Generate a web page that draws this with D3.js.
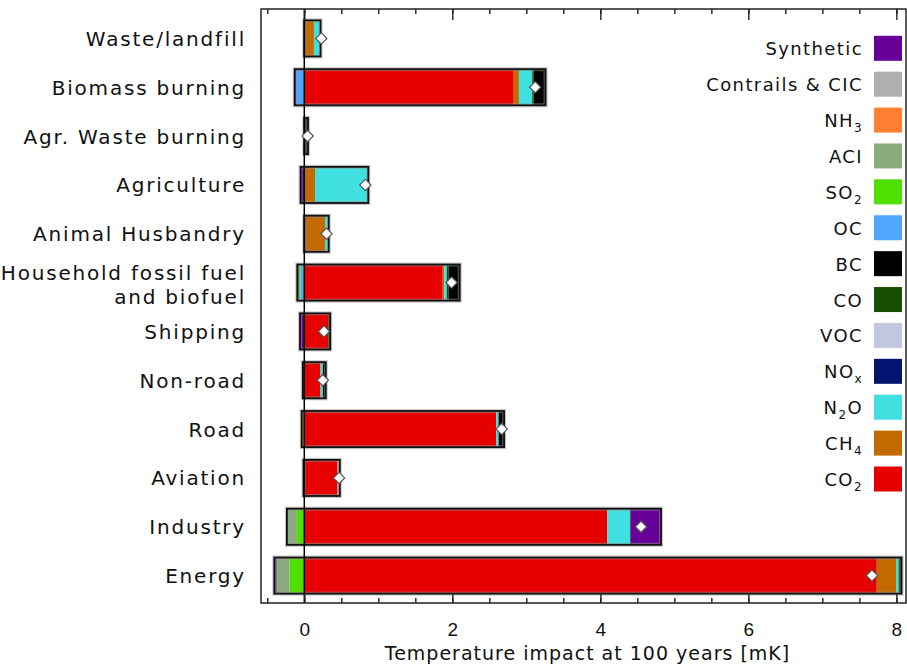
<!DOCTYPE html>
<html>
<head>
<meta charset="utf-8">
<script src="https://cdn.jsdelivr.net/npm/d3@7"></script>
<style>
  html, body { margin: 0; padding: 0; background: #fff; }
  svg { display: block; font-family: "DejaVu Sans", sans-serif; }
</style>
</head>
<body>
<div id="chart"></div>
<script>
// sectors, top to bottom
var sectors = ["Waste/landfill", "Biomass burning", "Agr. Waste burning", "Agriculture",
    "Animal Husbandry", "Household fossil fuel\nand biofuel", "Shipping", "Non-road",
    "Road", "Aviation", "Industry", "Energy"];

// temperature impact at 100 years [mK], one value per sector
var co2       = [0,     2.83,  0,     0,     0,     1.87,  0.32,  0.22,  2.59,  0.45,  4.095, 7.735];
var ch4       = [0.13,  0.07,  0,     0.145, 0.28,  0.02,  0,     0,    -0.035, 0,     0,     0.26];
var n2o       = [0.09,  0.18,  0,     0.72,  0.05,  0.035, 0,     0.03,  0.035, 0,     0.305, 0.035];
var nox       = [0,     0,     0,     0,     0,     0,     0,     0,     0,     0,     0,     0];
var voc       = [0,     0,     0,     0,     0,     0,     0,     0,     0,     0,     0,     0];
var co        = [0,     0.02,  0,     0,     0,     0.025, 0.03,  0,     0,     0,     0.01,  0.02];
var bc        = [0,     0.16,  0.05,  0,     0,     0.15,  0,     0.04,  0.075, 0,     0,     0.02];
var oc        = [0,    -0.11,  0,     0,     0,    -0.05,  0,     0,     0,     0,     0,     0];
var so2       = [0,     0,     0,     0,     0,    -0.023, 0,     0,     0,     0,    -0.10, -0.20];
var aci       = [0,     0,     0,     0,     0,     0,     0,     0,     0,     0,    -0.135, -0.175];
var nh3       = [0,     0,     0,     0,     0,     0,     0,     0,     0,     0,     0,     0];
var contrails = [0,     0,     0,     0,     0,     0,     0,     0,     0,     0.03,  0,     0];
var synthetic = [0,    -0.02,  0,    -0.05,  0,    -0.022, -0.058, -0.02, 0,    -0.01,  0.41, -0.03];

// net impact (white diamonds)
var net = [0.23, 3.12, 0.045, 0.825, 0.30, 1.99, 0.266, 0.25, 2.667, 0.47, 4.55, 7.67];

// species in stacking order (CO2 next to zero), "_" marks a subscript
var species = ["CO_2", "CH_4", "N_2O", "NO_x", "VOC", "CO", "BC", "OC", "SO_2", "ACI", "NH_3", "Contrails & CIC", "Synthetic"];
var speciesValues = [co2, ch4, n2o, nox, voc, co, bc, oc, so2, aci, nh3, contrails, synthetic];
var speciesColors = ["#e60000", "#c26a00", "#40e0e0", "#001470", "#c0c8e2", "#174d00", "#000000",
    "#4ea6ff", "#50e000", "#8aab7b", "#ff8030", "#b0b0b0", "#660099"];

var xTicksMajor = [0, 2, 4, 6, 8];
var xTicksMinor = d3.range(-0.5, 8.01, 0.5);

var width = 907, height = 668;
var frame = {left: 261, right: 906, top: 9, bottom: 603};

var svg = d3.select("#chart").append("svg")
    .attr("width", width)
    .attr("height", height);

var x = d3.scaleLinear()
    .domain([-0.585, 8.13])
    .range([frame.left, frame.right]);

var y = d3.scaleBand()
    .domain(sectors)
    .range([14, 600])
    .paddingInner(0.26)
    .paddingOuter(0.13);

var legendY = d3.scalePoint()
    .domain(species.slice().reverse())
    .range([48.3, 479]);

var color = d3.scaleOrdinal().domain(species).range(speciesColors);

// stack every sector: positives to the right of zero, negatives to the left
var segments = [];
var extents = [];
sectors.forEach(function(s, i) {
    var pos = 0, neg = 0;
    species.forEach(function(sp, j) {
        var v = speciesValues[j][i];
        if (v > 0) {
            segments.push({sector: s, species: sp, x0: pos, x1: pos + v});
            pos += v;
        } else if (v < 0) {
            segments.push({sector: s, species: sp, x0: neg + v, x1: neg});
            neg += v;
        }
    });
    extents.push({sector: s, x0: neg, x1: pos, net: net[i]});
});

var gBars = svg.append("g");

gBars.selectAll(".seg").data(segments).enter().append("rect")
    .attr("class", "seg")
    .attr("x", function(d) { return x(d.x0); })
    .attr("width", function(d) { return x(d.x1) - x(d.x0); })
    .attr("y", function(d) { return y(d.sector); })
    .attr("height", y.bandwidth())
    .attr("fill", function(d) { return color(d.species); });

// soft halo + dark outline round each bar
gBars.selectAll(".halo").data(extents).enter().append("rect")
    .attr("x", function(d) { return x(d.x0); })
    .attr("width", function(d) { return x(d.x1) - x(d.x0); })
    .attr("y", function(d) { return y(d.sector); })
    .attr("height", y.bandwidth())
    .attr("fill", "none")
    .attr("stroke", "#999")
    .attr("stroke-opacity", 0.55)
    .attr("stroke-width", 4);

gBars.selectAll(".outline").data(extents).enter().append("rect")
    .attr("x", function(d) { return x(d.x0); })
    .attr("width", function(d) { return x(d.x1) - x(d.x0); })
    .attr("y", function(d) { return y(d.sector); })
    .attr("height", y.bandwidth())
    .attr("fill", "none")
    .attr("stroke", "#111")
    .attr("stroke-width", 1.8);

// zero line
svg.append("line")
    .attr("x1", x(0)).attr("x2", x(0))
    .attr("y1", frame.top).attr("y2", frame.bottom)
    .attr("stroke", "#000")
    .attr("stroke-width", 1.5);

// net diamonds
svg.selectAll(".net").data(extents).enter().append("path")
    .attr("d", d3.symbol(d3.symbolSquare, 64))
    .attr("transform", function(d) {
        return "translate(" + x(d.net) + "," + (y(d.sector) + y.bandwidth() / 2) + ") rotate(45)";
    })
    .attr("fill", "#fff")
    .attr("stroke", "#555")
    .attr("stroke-width", 1.2);

// frame
svg.append("rect")
    .attr("x", frame.left).attr("y", frame.top)
    .attr("width", frame.right - frame.left)
    .attr("height", frame.bottom - frame.top)
    .attr("fill", "none")
    .attr("stroke", "#222")
    .attr("stroke-width", 1.5);

// axes, ticks pointing inwards
function styleAxis(g) {
    g.select(".domain").remove();
    g.selectAll(".tick line").attr("stroke", "#222").attr("stroke-width", 1.4);
    g.selectAll(".tick text").attr("fill", "#111").style("font-size", "19px");
}

svg.append("g")
    .attr("transform", "translate(0," + frame.bottom + ")")
    .call(d3.axisBottom(x).tickValues(xTicksMinor).tickSize(-5).tickFormat(""))
    .call(styleAxis);
svg.append("g")
    .attr("transform", "translate(0," + frame.bottom + ")")
    .call(d3.axisBottom(x).tickValues(xTicksMajor).tickSize(-10).tickPadding(20).tickFormat(d3.format("d")))
    .call(styleAxis);
svg.append("g")
    .attr("transform", "translate(0," + frame.top + ")")
    .call(d3.axisTop(x).tickValues(xTicksMinor).tickSize(-5).tickFormat(""))
    .call(styleAxis);
svg.append("g")
    .attr("transform", "translate(0," + frame.top + ")")
    .call(d3.axisTop(x).tickValues(xTicksMajor).tickSize(-11).tickFormat(""))
    .call(styleAxis);

svg.append("text")
    .attr("x", (frame.left + frame.right) / 2 + 4)
    .attr("y", 660)
    .attr("text-anchor", "middle")
    .attr("fill", "#111")
    .style("font-size", "19px")
    .style("letter-spacing", "1px")
    .text("Temperature impact at 100 years [mK]");

// sector labels
var gLabels = svg.append("g");
sectors.forEach(function(s) {
    var lines = s.split("\n");
    var cy = y(s) + y.bandwidth() / 2;
    var t = gLabels.append("text")
        .attr("text-anchor", "end")
        .attr("fill", "#111")
        .style("font-size", "20px")
        .style("letter-spacing", "1.8px");
    if (lines.length === 1) {
        t.append("tspan").attr("x", 246).attr("y", cy + 7.5).text(lines[0]);
    } else {
        t.append("tspan").attr("x", 246).attr("y", cy - 3).text(lines[0]);
        t.append("tspan").attr("x", 246).attr("y", cy + 21).text(lines[1]);
    }
});

// legend
var gLegend = svg.append("g");
species.forEach(function(sp) {
    var cy = legendY(sp);
    gLegend.append("rect")
        .attr("x", 874).attr("y", cy - 12.5)
        .attr("width", 28).attr("height", 25)
        .attr("fill", color(sp));
    var t = gLegend.append("text")
        .attr("x", 863).attr("y", cy + 7)
        .attr("text-anchor", "end")
        .attr("fill", "#111")
        .style("font-size", "18px")
        .style("letter-spacing", "1.4px");
    var parts = sp.split(/_(\w)/);
    parts.forEach(function(p, k) {
        if (p === "") return;
        var isSub = k % 2 === 1;
        var ts = t.append("tspan").text(p);
        if (isSub) {
            ts.attr("dy", 5).style("font-size", "12px");
        } else if (k > 0) {
            ts.attr("dy", -5);
        }
    });
});
</script>
</body>
</html>
